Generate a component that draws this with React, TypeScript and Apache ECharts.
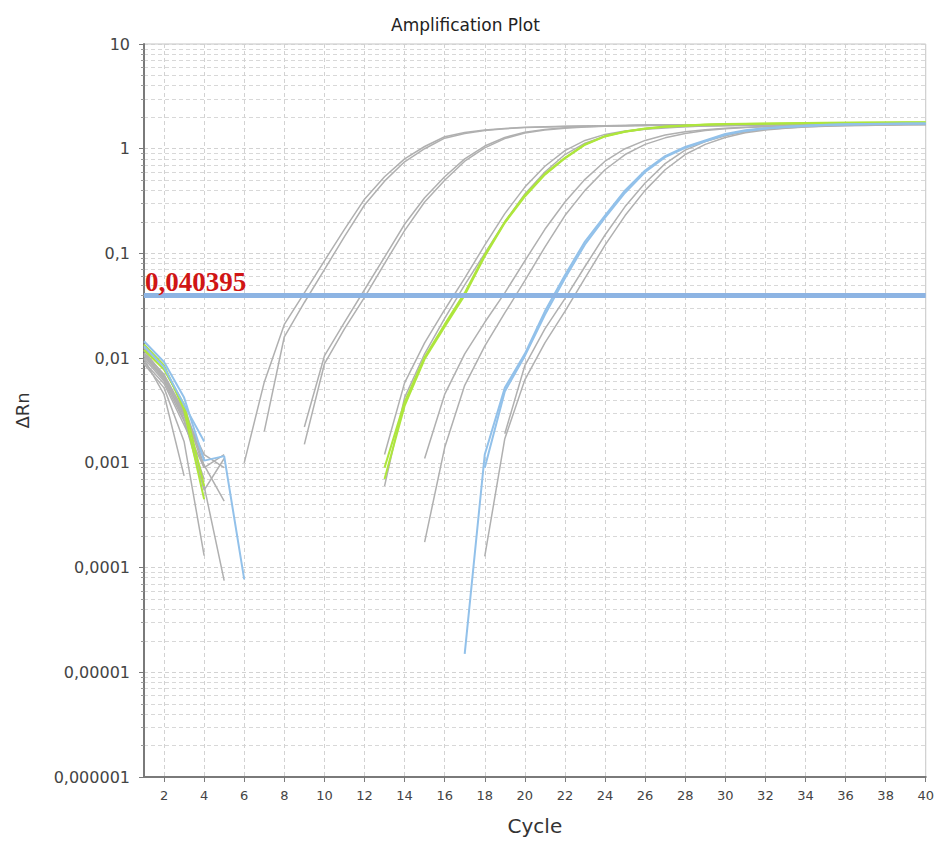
import React, { useEffect, useRef } from 'react';
import * as echarts from 'echarts';

// ---- axis definitions ----
const cycles = [1, 2, 3, 4, 5, 6, 7, 8, 9, 10, 11, 12, 13, 14, 15, 16, 17, 18, 19, 20, 21, 22, 23, 24, 25, 26, 27, 28, 29, 30, 31, 32, 33, 34, 35, 36, 37, 38, 39, 40];
const xTickValues = [2, 4, 6, 8, 10, 12, 14, 16, 18, 20, 22, 24, 26, 28, 30, 32, 34, 36, 38, 40];
const yDecades = [0.000001, 0.00001, 0.0001, 0.001, 0.01, 0.1, 1, 10];
const yDecadeLabels = ['0,000001', '0,00001', '0,0001', '0,001', '0,01', '0,1', '1', '10'];
const yMinorSteps = [2, 3, 4, 5, 6, 7, 8, 9];
const threshold = 0.040395;
const thresholdLabel = '0,040395';

// ---- ΔRn per sample: early (from cycle 1) and late (ending at cycle 40) segments ----
const a1Early = [0.0105, 0.0062, 0.0028, 0.0011];
const a1Late = [0.001, 0.0059, 0.021, 0.042, 0.085, 0.17, 0.33, 0.54, 0.8, 1.05, 1.3, 1.43, 1.51, 1.56, 1.6, 1.62, 1.64, 1.65, 1.66, 1.67, 1.68, 1.68, 1.69, 1.69, 1.7, 1.7, 1.7, 1.71, 1.71, 1.71, 1.71, 1.72, 1.72, 1.72, 1.72];
const a2Early = [0.0098, 0.0045, 0.00075];
const a2Late = [0.002, 0.016, 0.034, 0.07, 0.145, 0.29, 0.49, 0.75, 1.0, 1.26, 1.4, 1.49, 1.55, 1.59, 1.61, 1.63, 1.65, 1.66, 1.67, 1.68, 1.68, 1.69, 1.69, 1.7, 1.7, 1.7, 1.71, 1.71, 1.71, 1.71, 1.72, 1.72, 1.72, 1.72];
const b1Early = [0.0088, 0.0052, 0.0016, 0.00013];
const b1Late = [0.0022, 0.0105, 0.022, 0.045, 0.092, 0.19, 0.34, 0.54, 0.8, 1.06, 1.28, 1.44, 1.53, 1.59, 1.62, 1.65, 1.66, 1.67, 1.68, 1.69, 1.69, 1.7, 1.7, 1.7, 1.71, 1.71, 1.71, 1.72, 1.72, 1.72, 1.72, 1.73];
const b2Early = [0.0118, 0.0068, 0.0029, 0.0006, 0.000075];
const b2Late = [0.0015, 0.0088, 0.019, 0.038, 0.08, 0.165, 0.31, 0.5, 0.76, 1.02, 1.25, 1.41, 1.51, 1.57, 1.61, 1.64, 1.66, 1.67, 1.68, 1.68, 1.69, 1.69, 1.7, 1.7, 1.7, 1.71, 1.71, 1.71, 1.72, 1.72, 1.72, 1.72];
const c1Early = [0.0125, 0.0078, 0.0035, 0.00095, 0.00043];
const c1Late = [0.0012, 0.0058, 0.014, 0.029, 0.058, 0.12, 0.24, 0.43, 0.68, 0.96, 1.2, 1.37, 1.48, 1.55, 1.6, 1.63, 1.65, 1.67, 1.68, 1.69, 1.69, 1.7, 1.7, 1.71, 1.71, 1.71, 1.72, 1.72];
const c2Early = [0.011, 0.0066, 0.0026, 0.00055, 0.0011];
const c2Late = [0.0006, 0.0042, 0.011, 0.024, 0.05, 0.1, 0.2, 0.37, 0.6, 0.88, 1.13, 1.32, 1.45, 1.53, 1.58, 1.62, 1.65, 1.66, 1.67, 1.68, 1.69, 1.69, 1.7, 1.7, 1.71, 1.71, 1.71, 1.72];
const d1Early = [0.01, 0.006, 0.0025, 0.0007];
const d1Late = [0.0011, 0.0045, 0.011, 0.022, 0.042, 0.085, 0.17, 0.31, 0.51, 0.76, 1.0, 1.2, 1.35, 1.45, 1.52, 1.57, 1.6, 1.63, 1.65, 1.66, 1.67, 1.68, 1.69, 1.69, 1.7, 1.7];
const d2Early = [0.0092, 0.0057, 0.0023, 0.0009, 0.0012];
const d2Late = [0.000175, 0.0014, 0.0055, 0.013, 0.027, 0.055, 0.115, 0.23, 0.4, 0.63, 0.88, 1.1, 1.27, 1.4, 1.49, 1.55, 1.59, 1.62, 1.64, 1.66, 1.67, 1.68, 1.69, 1.69, 1.7, 1.7];
const e1Early = [0.0108, 0.0064, 0.003, 0.0012, 0.0009];
const e1Late = [0.0019, 0.0085, 0.019, 0.037, 0.075, 0.15, 0.28, 0.47, 0.72, 0.97, 1.17, 1.33, 1.45, 1.53, 1.58, 1.62, 1.65, 1.67, 1.68, 1.69, 1.7, 1.7];
const e2Early = [0.0112, 0.007, 0.0031, 0.0009];
const e2Late = [0.000128, 0.0017, 0.0062, 0.014, 0.028, 0.058, 0.12, 0.23, 0.4, 0.63, 0.88, 1.1, 1.28, 1.42, 1.51, 1.57, 1.61, 1.64, 1.66, 1.67, 1.68, 1.69, 1.7];
const g1Early = [0.0135, 0.0085, 0.0032, 0.00045];
const g1Late = [0.0007, 0.0035, 0.0098, 0.02, 0.04, 0.094, 0.196, 0.35, 0.565, 0.81, 1.09, 1.31, 1.45, 1.55, 1.62, 1.66, 1.69, 1.71, 1.72, 1.73, 1.74, 1.75, 1.76, 1.77, 1.77, 1.78, 1.78, 1.78];
const g2Early = [0.012, 0.0078, 0.0036, 0.0006];
const g2Late = [0.0009, 0.0038, 0.0102, 0.021, 0.042, 0.097, 0.2, 0.36, 0.575, 0.82, 1.1, 1.32, 1.46, 1.56, 1.63, 1.67, 1.7, 1.72, 1.73, 1.74, 1.75, 1.76, 1.77, 1.77, 1.78, 1.78, 1.79, 1.79];
const l1Early = [0.0145, 0.0092, 0.0042, 0.00105, 0.00116, 0.000077];
const l1Late = [0.000015, 0.0012, 0.0052, 0.011, 0.028, 0.062, 0.13, 0.23, 0.4, 0.62, 0.85, 1.04, 1.2, 1.38, 1.5, 1.57, 1.62, 1.66, 1.69, 1.71, 1.72, 1.73, 1.74, 1.74];
const l2Early = [0.013, 0.0082, 0.0036, 0.0016];
const l2Late = [0.0009, 0.0048, 0.0105, 0.026, 0.058, 0.122, 0.22, 0.38, 0.6, 0.83, 1.02, 1.18, 1.36, 1.48, 1.56, 1.61, 1.65, 1.68, 1.7, 1.71, 1.72, 1.73, 1.74];

const wells = [
  { name: 'A1', kind: 'gray', early: a1Early, late: a1Late },
  { name: 'A2', kind: 'gray', early: a2Early, late: a2Late },
  { name: 'B1', kind: 'gray', early: b1Early, late: b1Late },
  { name: 'B2', kind: 'gray', early: b2Early, late: b2Late },
  { name: 'C1', kind: 'gray', early: c1Early, late: c1Late },
  { name: 'C2', kind: 'gray', early: c2Early, late: c2Late },
  { name: 'D1', kind: 'gray', early: d1Early, late: d1Late },
  { name: 'D2', kind: 'gray', early: d2Early, late: d2Late },
  { name: 'E1', kind: 'gray', early: e1Early, late: e1Late },
  { name: 'E2', kind: 'gray', early: e2Early, late: e2Late },
  { name: 'G1', kind: 'green', early: g1Early, late: g1Late },
  { name: 'G2', kind: 'green', early: g2Early, late: g2Late },
  { name: 'L1', kind: 'blue', early: l1Early, late: l1Late },
  { name: 'L2', kind: 'blue', early: l2Early, late: l2Late },
];

const kindStyle: Record<string, { color: string; width: number; z: number }> = {
  gray: { color: '#b0b0b0', width: 1.5, z: 2 },
  green: { color: '#aee63c', width: 2, z: 3 },
  blue: { color: '#92c1ea', width: 2, z: 4 },
};

function buildData(early: number[], late: number[]) {
  const start = cycles.length + 1 - late.length;
  return cycles.map((c, i) => {
    let v: number | string = '-';
    if (i < early.length) v = early[i];
    else if (c >= start) v = late[c - start];
    return [c, v];
  });
}

const FONT = 'DejaVu Sans';

export default function App() {
  const ref = useRef<HTMLDivElement>(null);

  useEffect(() => {
    if (!ref.current) return;
    const chart = echarts.init(ref.current, undefined, { renderer: 'svg' });

    const yMinor: number[] = [];
    yDecades.slice(0, -1).forEach((d) => yMinorSteps.forEach((m) => yMinor.push(d * m)));

    const gridLine = { show: true, lineStyle: { color: '#d2d2d2', type: [4, 3] as any, width: 1 } };

    const lineSeries = wells.map((w) => {
      const st = kindStyle[w.kind];
      return {
        name: w.name,
        type: 'line',
        xAxisIndex: 0,
        yAxisIndex: 0,
        data: buildData(w.early, w.late),
        showSymbol: false,
        symbol: 'none',
        connectNulls: false,
        smooth: false,
        z: st.z,
        lineStyle: { color: st.color, width: st.width },
        itemStyle: { color: st.color },
        emphasis: { disabled: true },
        silent: true,
      };
    });

    const thresholdSeries = {
      name: 'Threshold',
      type: 'line',
      xAxisIndex: 0,
      yAxisIndex: 0,
      data: [],
      z: 10,
      silent: true,
      markLine: {
        silent: true,
        symbol: ['none', 'none'],
        animation: false,
        lineStyle: { color: '#8db4e3', width: 5, type: 'solid' },
        label: {
          show: true,
          position: 'insideStartTop',
          formatter: thresholdLabel,
          color: '#d01515',
          fontFamily: 'Liberation Serif',
          fontWeight: 'bold',
          fontSize: 27,
          distance: [1, 0],
        },
        data: [{ yAxis: threshold }],
      },
    };

    chart.setOption({
      animation: false,
      backgroundColor: '#ffffff',
      title: {
        text: 'Amplification Plot',
        left: 386,
        top: 11,
        textStyle: { fontFamily: FONT, fontSize: 17, fontWeight: 'normal', color: '#222' },
      },
      grid: {
        left: 144,
        right: 3,
        top: 44,
        bottom: 60,
        show: true,
        borderColor: '#c4c4c4',
        borderWidth: 1,
      },
      xAxis: {
        type: 'value',
        min: 1,
        max: 40,
        name: 'Cycle',
        nameLocation: 'middle',
        nameGap: 39,
        nameTextStyle: { fontFamily: FONT, fontSize: 20, color: '#333' },
        axisLine: { show: true, onZero: false, lineStyle: { color: '#7a7a7a', width: 2 } },
        axisTick: { show: true, customValues: xTickValues, length: 5, lineStyle: { color: '#7a7a7a' } },
        axisLabel: { customValues: xTickValues, fontFamily: FONT, fontSize: 13, color: '#444', margin: 12 },
        splitLine: gridLine,
      },
      yAxis: [
        {
          type: 'log',
          logBase: 10,
          min: 0.000001,
          max: 10,
          name: 'ΔRn',
          nameLocation: 'middle',
          nameGap: 113,
          nameRotate: 90,
          nameTextStyle: { fontFamily: FONT, fontSize: 18, color: '#333' },
          axisLine: { show: true, lineStyle: { color: '#7a7a7a', width: 2 } },
          axisTick: { show: true, customValues: yDecades, length: 5, lineStyle: { color: '#7a7a7a' } },
          axisLabel: {
            customValues: yDecades,
            fontFamily: FONT,
            fontSize: 16,
            color: '#444',
            margin: 14,
            formatter: (v: number) => {
              const idx = Math.round(Math.log10(v)) + 6;
              return yDecadeLabels[idx] ?? '';
            },
          },
          splitLine: gridLine,
        },
        {
          type: 'log',
          logBase: 10,
          min: 0.000001,
          max: 10,
          position: 'left',
          axisLine: { show: false },
          axisTick: { show: true, customValues: yMinor, length: 3, lineStyle: { color: '#9a9a9a' } },
          axisLabel: { show: false },
          splitLine: { show: true, lineStyle: { color: '#d8d8d8', type: [4, 3] as any, width: 1 } },
        },
      ],
      series: [...lineSeries, thresholdSeries],
    });

    return () => chart.dispose();
  }, []);

  return <div ref={ref} style={{ width: 937, height: 841, position: 'absolute', left: 0, top: 0 }} />;
}
